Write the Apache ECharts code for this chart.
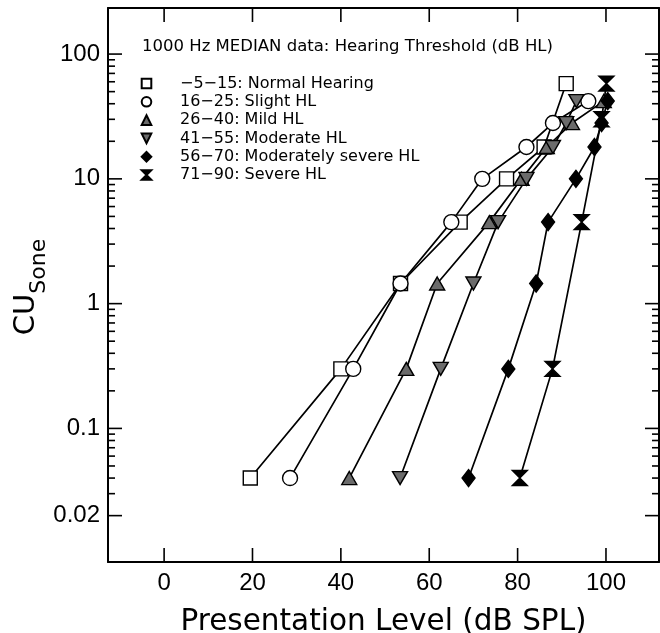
<!DOCTYPE html>
<html>
<head>
<meta charset="utf-8">
<script src="https://cdn.jsdelivr.net/npm/echarts@6/dist/echarts.min.js"></script>
<style>
  html, body { margin: 0; padding: 0; background: #fff; }
  #chart { width: 660px; height: 633px; }
</style>
</head>
<body>
<div id="chart"></div>
<script>
// CU levels (y) and median presentation levels (x, dB SPL) per hearing group
const normalCU = [0.04, 0.3, 1.45, 4.5, 10, 18, 58];
const normalSPL = [19.5, 40, 53.5, 67, 77.5, 86, 91];
const slightCU = [0.04, 0.3, 1.45, 4.5, 10, 18, 28, 42];
const slightSPL = [28.5, 42.8, 53.5, 65, 72, 82, 88, 96];
const mildCU = [0.04, 0.3, 1.45, 4.5, 10, 18, 28, 42];
const mildSPL = [41.9, 54.8, 61.8, 73.6, 80.9, 86.6, 92.3, 99.5];
const moderateCU = [0.04, 0.3, 1.45, 4.5, 10, 18, 28, 42];
const moderateSPL = [53.4, 62.6, 70, 75.6, 82, 88, 91, 93.3];
const modSevereCU = [0.04, 0.3, 1.45, 4.5, 10, 18, 28, 42];
const modSevereSPL = [68.9, 77.9, 84.2, 86.9, 93.2, 97.4, 99, 100.4];
const severeCU = [0.04, 0.3, 4.5, 30, 58];
const severeSPL = [80.5, 87.9, 94.5, 99, 100.1];

const groupNames = [
  '\u22125\u221215: Normal Hearing',
  '16\u221225: Slight HL',
  '26\u221240: Mild HL',
  '41\u221255: Moderate HL',
  '56\u221270: Moderately severe HL',
  '71\u221290: Severe HL'
];

const xTicks = [0, 20, 40, 60, 80, 100];
const yLabels = [0.02, 0.1, 1, 10, 100];
const yMinor = [0.03, 0.04, 0.05, 0.06, 0.07, 0.08, 0.09,
  0.2, 0.3, 0.4, 0.5, 0.6, 0.7, 0.8, 0.9,
  2, 3, 4, 5, 6, 7, 8, 9,
  20, 30, 40, 50, 60, 70, 80, 90];

const FONT = "'DejaVu Sans', sans-serif";
const downTri = 'path://M0,0 L10,0 L5,9 Z';
const hourglass = 'path://M0,0 L10,0 L0,10 L10,10 Z';

function makeSeries(name, spl, cu, symbol, size, fill) {
  return {
    name: name,
    type: 'line',
    data: spl.map((x, i) => [x, cu[i]]),
    symbol: symbol,
    symbolSize: size,
    color: fill,
    lineStyle: { color: '#000', width: 1.7 },
    itemStyle: { color: fill, borderColor: '#000', borderWidth: 1.4 },
    emphasis: { disabled: true }
  };
}

function yAxis(pos) {
  return {
    type: 'log',
    position: pos,
    min: 0.0085,
    max: 234,
    axisLine: { show: true, onZero: false, lineStyle: { color: '#000', width: 2 } },
    axisTick: { show: false },
    axisLabel: {
      show: pos === 'left',
      customValues: yLabels,
      margin: 8,
      color: '#000',
      fontSize: 24,
      fontFamily: "'Liberation Sans', sans-serif"
    },
    splitLine: { show: false },
    minorTick: { show: false }
  };
}

function xAxis(pos, showLabel) {
  return {
    type: 'value',
    position: pos,
    min: -12.7,
    max: 112,
    axisLine: { show: true, onZero: false, lineStyle: { color: '#000', width: 2 } },
    axisTick: { show: false },
    axisLabel: {
      show: showLabel,
      customValues: xTicks,
      margin: 9,
      color: '#000',
      fontSize: 24,
      fontFamily: "'Liberation Sans', sans-serif"
    },
    splitLine: { show: false },
    name: showLabel ? 'Presentation Level (dB SPL)' : '',
    nameLocation: 'middle',
    nameGap: 45,
    nameTextStyle: { color: '#000', fontSize: 29.5, fontFamily: FONT }
  };
}

// inward tick marks on all four sides, placed through the axis scales
// kind 0 = x tick, 1 = major y tick, 2 = minor y tick
const tickData = []
  .concat(xTicks.map(v => [v, 1, 0]))
  .concat(yLabels.map(v => [0, v, 1]))
  .concat(yMinor.map(v => [0, v, 2]));

function renderTick(params, api) {
  const cs = params.coordSys;
  const kind = api.value(2);
  const p = api.coord([api.value(0), api.value(1)]);
  const st = { stroke: '#000', lineWidth: 1.6 };
  if (kind === 0) {
    const bottom = cs.y + cs.height;
    return {
      type: 'group',
      children: [
        { type: 'line', shape: { x1: p[0], y1: bottom, x2: p[0], y2: bottom - 14 }, style: st },
        { type: 'line', shape: { x1: p[0], y1: cs.y, x2: p[0], y2: cs.y + 14 }, style: st }
      ]
    };
  }
  const len = kind === 1 ? 14 : 7;
  const right = cs.x + cs.width;
  return {
    type: 'group',
    children: [
      { type: 'line', shape: { x1: cs.x, y1: p[1], x2: cs.x + len, y2: p[1] }, style: st },
      { type: 'line', shape: { x1: right, y1: p[1], x2: right - len, y2: p[1] }, style: st }
    ]
  };
}

const chart = echarts.init(document.getElementById('chart'));
chart.setOption({
  animation: false,
  title: {
    text: '1000 Hz MEDIAN data: Hearing Threshold (dB HL)',
    left: 142,
    top: 38,
    padding: 0,
    textStyle: { fontSize: 16.5, fontWeight: 'normal', color: '#000', fontFamily: FONT }
  },
  legend: {
    data: groupNames,
    orient: 'vertical',
    left: 125,
    top: 75.5,
    padding: 0,
    itemWidth: 43,
    itemHeight: 12,
    itemGap: 2.3,
    selectedMode: false,
    lineStyle: { width: 0 },
    textStyle: { fontSize: 16, color: '#000', fontFamily: FONT, lineHeight: 16, padding: [0, 0, 0, 7] }
  },
  grid: { left: 108, right: 1, top: 8, bottom: 71, outerBoundsMode: 'none' },
  xAxis: [xAxis('bottom', true), xAxis('top', false)],
  yAxis: [yAxis('left'), yAxis('right')],
  graphic: [{
    type: 'text',
    x: 50,
    y: 287,
    rotation: Math.PI / 2,
    style: {
      text: '{cu|CU}{sub|Sone}',
      align: 'center',
      verticalAlign: 'bottom',
      fill: '#000',
      rich: {
        cu: { fontSize: 29, fontFamily: FONT, fill: '#000', verticalAlign: 'top', padding: [0, 0, 9, 0] },
        sub: { fontSize: 22, fontFamily: FONT, fill: '#000', verticalAlign: 'bottom' }
      }
    }
  }],
  series: [
    makeSeries(groupNames[0], normalSPL, normalCU, 'rect', 14, '#fff'),
    makeSeries(groupNames[1], slightSPL, slightCU, 'circle', 15, '#fff'),
    makeSeries(groupNames[2], mildSPL, mildCU, 'triangle', [15, 13], '#6b6b6b'),
    makeSeries(groupNames[3], moderateSPL, moderateCU, downTri, [15, 13], '#6b6b6b'),
    makeSeries(groupNames[4], modSevereSPL, modSevereCU, 'diamond', [13, 17], '#000'),
    makeSeries(groupNames[5], severeSPL, severeCU, hourglass, [15, 15], '#000'),
    {
      name: 'ticks',
      type: 'custom',
      data: tickData,
      dimensions: ['x', 'y', 'kind'],
      encode: { x: 0, y: 1 },
      renderItem: renderTick,
      clip: false,
      silent: true,
      z: 3
    }
  ]
});
</script>
</body>
</html>
